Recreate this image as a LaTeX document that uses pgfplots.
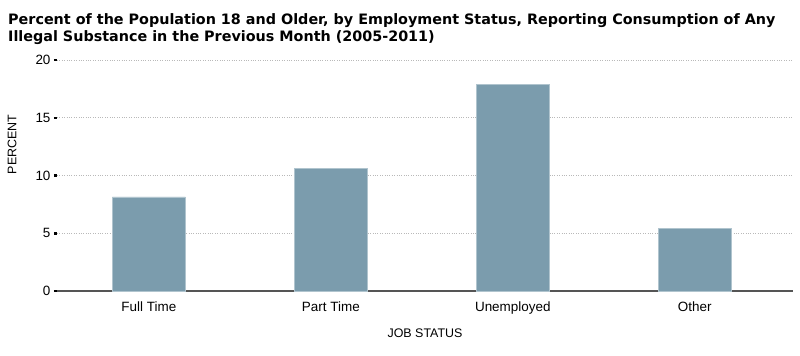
\documentclass[border=0pt]{standalone}
\usepackage{pgfplots}
\pgfplotsset{compat=1.18}
\usepackage{fontspec}
\setmainfont{Liberation Sans}
\newfontfamily\titlefont{DejaVu Sans}
\definecolor{barc}{HTML}{7B9CAD}
\definecolor{axc}{HTML}{555555}
\begin{document}
\begin{tikzpicture}[x=1bp,y=1bp]
\path[use as bounding box] (-57,-64) rectangle (743,291);
\begin{axis}[
  at={(0,0)}, anchor=south west,
  scale only axis, width=736bp, height=231bp,
  xmin=-0.505, xmax=3.54, ymin=0, ymax=20,
  ybar, bar width=73bp,
  xtick={0,1,2,3}, xticklabels={Full Time,Part Time,Unemployed,Other},
  ytick={0,5,10,15,20},
  axis x line*=bottom, axis y line*=left,
  x axis line style={-, draw=axc, line width=1.5bp},
  y axis line style={draw=none},
  xtick style={draw=none},
  ytick style={draw=black, line width=2.5bp},
  major tick length=3bp, tick align=outside,
  ymajorgrids, grid style={dotted, gray!55, line width=0.8bp},
  tick label style={font=\fontsize{13.5}{13.5}\selectfont},
  /pgf/number format/assume math mode=true,
  xticklabel style={yshift=-4bp},
  label style={font=\fontsize{12.5}{12.5}\selectfont},
  xlabel={JOB STATUS},
  xlabel style={at={(axis description cs:0.5,0)}, anchor=center, yshift=-42bp},
  ylabel={PERCENT},
  ylabel style={at={(axis description cs:0,0.634)}, anchor=center, yshift=45bp},
]
\addplot[fill=barc, draw=barc!60!white, line width=0.6bp] coordinates {(0,8.15) (1,10.6) (2,17.9) (3,5.45)};
\end{axis}
\node[anchor=base west, inner sep=0, font=\titlefont\fontsize{14.4}{14.4}\selectfont\bfseries] at (-49,267) {Percent of the Population 18 and Older, by Employment Status, Reporting Consumption of Any};
\node[anchor=base west, inner sep=0, font=\titlefont\fontsize{14.4}{14.4}\selectfont\bfseries] at (-49,249.5) {Illegal Substance in the Previous Month (2005-2011)};
\end{tikzpicture}
\end{document}
